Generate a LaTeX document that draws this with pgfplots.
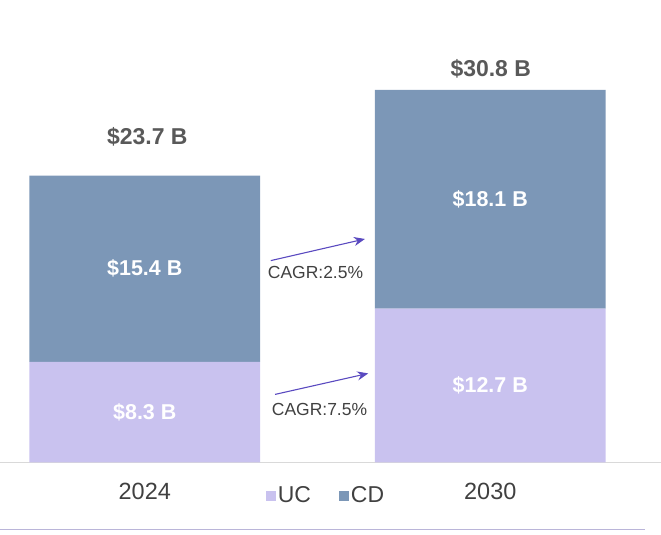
\documentclass[border=0pt]{standalone}
\usepackage{graphicx}
\usepackage{pgfplots}
\pgfplotsset{compat=1.18}
\usetikzlibrary{arrows.meta}
\usepackage{fontspec}
\setmainfont{Liberation Sans}

\definecolor{ucfill}{HTML}{C9C2EF}
\definecolor{cdfill}{HTML}{7C97B7}
\definecolor{arrowc}{HTML}{5A4AC0}
\definecolor{txtdark}{HTML}{404040}
\definecolor{txttot}{HTML}{595959}

% bars sit at pixel x positions, y in billions
\pgfplotstableread{
pos    uc    cd
144.5  8.3   15.4
490.5  12.7  18.1
}\marketdata

\begin{document}
\begin{tikzpicture}
\begin{axis}[
    scale only axis,
    width=661bp, height=535bp,
    xmin=0, xmax=661,
    ymin=-5.946, ymax=38.233,
    ybar stacked,
    bar width=231,
    axis line style={draw=none},
    tick style={draw=none},
    ytick=\empty,
    xtick={144.5,490.5},
    xticklabels={2024,2030},
    xticklabel style={anchor=center, yshift=43bp, font=\fontsize{23.5bp}{26bp}\selectfont, text=txtdark},
    clip=false,
    legend style={at={(axis cs:326,-2.7)}, anchor=center, draw=none, fill=none,
        legend columns=2, font=\fontsize{23bp}{26bp}\selectfont, text=txtdark,
        /tikz/every even column/.append style={column sep=26bp},
        legend cell align=left},
    legend image code/.code={\draw[#1,draw=none] (0bp,-6bp) rectangle (10bp,4bp);},
]
\addplot[draw=none, fill=ucfill] table[x=pos, y=uc] {\marketdata};
\addplot[draw=none, fill=cdfill] table[x=pos, y=cd] {\marketdata};
\legend{UC,CD}

% base and bottom rules
\draw[color=black!15, line width=1bp] (axis cs:0,0) -- (axis cs:661,0);
\draw[color=ucfill!80!gray, line width=1bp] (axis cs:0,-5.53) -- (axis cs:645,-5.53);

% anchor points for the labels drawn on top of the bars
\coordinate (ucA) at (axis cs:144.5,4.15);
\coordinate (cdA) at (axis cs:144.5,16.0);
\coordinate (ucB) at (axis cs:490.5,6.35);
\coordinate (cdB) at (axis cs:490.5,21.75);

% totals
\node[text=txttot, font=\bfseries\fontsize{23bp}{26bp}\selectfont] at (axis cs:147,26.92) {\$23.7 B};
\node[text=txttot, font=\bfseries\fontsize{23bp}{26bp}\selectfont] at (axis cs:491,32.54) {\$30.8 B};

% growth arrows
\draw[arrowc, line width=1.1bp, -{Stealth[length=11bp,width=9bp]}] (axis cs:270.7,16.68) -- (axis cs:365,18.47);
\draw[arrowc, line width=1.1bp, -{Stealth[length=11bp,width=9bp]}] (axis cs:275,5.615) -- (axis cs:368.3,7.35);
\node[text=txtdark, font=\fontsize{17.5bp}{20bp}\selectfont] at (axis cs:315.5,15.69) {CAGR:2.5\%};
\node[text=txtdark, font=\fontsize{17.5bp}{20bp}\selectfont] at (axis cs:319.5,4.38) {CAGR:7.5\%};
\end{axis}
\begin{scope}[every node/.append style={text=white, font=\bfseries\fontsize{21.5bp}{24bp}\selectfont}]
\node at (ucA) {\$8.3 B};
\node at (cdA) {\$15.4 B};
\node at (ucB) {\$12.7 B};
\node at (cdB) {\$18.1 B};
\end{scope}
\end{tikzpicture}
\end{document}
